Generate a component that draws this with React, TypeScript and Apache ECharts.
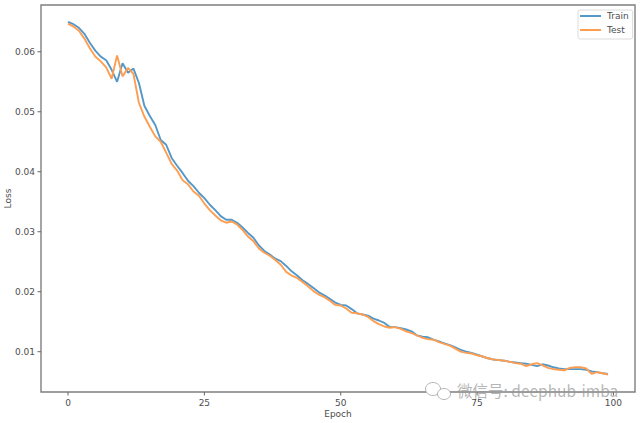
import React, { useEffect, useRef } from "react";
import * as echarts from "echarts";

const epochs = Array.from({ length: 100 }, (_, i) => i);
const trainLoss = [
  0.065, 0.0646, 0.064, 0.063, 0.0615, 0.0602, 0.0592, 0.0586, 0.057, 0.055,
  0.0581, 0.0565, 0.0572, 0.0548, 0.051, 0.0493, 0.0478, 0.0453, 0.0445, 0.0423,
  0.041, 0.0398, 0.0385, 0.0376, 0.0365, 0.0356, 0.0345, 0.0336, 0.0326, 0.032,
  0.032, 0.0315, 0.0307, 0.0298, 0.029, 0.0277, 0.0268, 0.0262, 0.0255, 0.0251,
  0.0243, 0.0234, 0.0227, 0.0219, 0.0213, 0.0206, 0.0199, 0.0194, 0.0188, 0.0182,
  0.0178, 0.0177, 0.0171, 0.0164, 0.0162, 0.016, 0.0155, 0.0152, 0.0148, 0.0141,
  0.0141, 0.0139, 0.0137, 0.0134, 0.0127, 0.0125, 0.0124, 0.012, 0.0117, 0.0114,
  0.0111, 0.0107, 0.0103, 0.01, 0.0098, 0.0095, 0.0092, 0.0089, 0.0087, 0.0086,
  0.0085, 0.0083, 0.0082, 0.0081, 0.008, 0.0078, 0.0076, 0.0079, 0.0077, 0.0074,
  0.0072, 0.0071, 0.0071, 0.0071, 0.0071, 0.007, 0.0067, 0.0066, 0.0064, 0.0063,
];
const testLoss = [
  0.0647, 0.0642, 0.0635, 0.0622, 0.0606, 0.0592, 0.0584, 0.0574, 0.0555, 0.0594,
  0.0559, 0.0573, 0.0563, 0.0515, 0.0492, 0.0475, 0.0459, 0.045, 0.0432, 0.0413,
  0.0402, 0.0386, 0.0379, 0.0367, 0.036, 0.0347, 0.0336, 0.0327, 0.0319, 0.0315,
  0.0317, 0.0312, 0.0303, 0.0292, 0.0284, 0.0272, 0.0265, 0.026, 0.0253, 0.0245,
  0.0233, 0.0227, 0.0223, 0.0216, 0.0209, 0.0201, 0.0195, 0.0191, 0.0185, 0.0178,
  0.0177, 0.0172, 0.0165, 0.0164, 0.0162, 0.0158, 0.0151, 0.0146, 0.0142, 0.014,
  0.0141, 0.0138, 0.0134, 0.0131, 0.0127, 0.0123, 0.0121, 0.012, 0.0116, 0.0113,
  0.011, 0.0105, 0.01, 0.0098, 0.0097, 0.0094, 0.0092, 0.0089, 0.0087, 0.0086,
  0.0085, 0.0083, 0.0081, 0.008, 0.0076, 0.0079, 0.0081, 0.0077, 0.0073, 0.0071,
  0.007, 0.0069, 0.0073, 0.0074, 0.0074, 0.0072, 0.0063, 0.0066, 0.0064, 0.0062,
];
const xTicks = [0, 25, 50, 75, 100];
const yTicks = [0.01, 0.02, 0.03, 0.04, 0.05, 0.06];
const seriesNames = ["Train", "Test"];
const watermark = "微信号: deephub-imba";
const textColor = "#4d4d4d";
const spine = "#7f7f7f";
const tickColor = "#666666";
const markGray = "rgba(150,150,150,0.7)";
const font = "DejaVu Sans";
const yMin = 0.00328;
const xMin = -4.95;

export default function App() {
  const ref = useRef<HTMLDivElement>(null);
  useEffect(() => {
    const chart = echarts.init(ref.current!, undefined, { renderer: "svg" });
    const toPairs = (ys: number[]) => ys.map((y, i) => [epochs[i], y]);
    const makeSeries = (name: string, ys: number[], color: string) => ({
      name,
      type: "line",
      data: toPairs(ys),
      showSymbol: false,
      symbol: "none",
      smooth: false,
      lineStyle: { color, width: 1.9 },
      itemStyle: { color },
    });
    const tickSeries = (name: string, pairs: number[][], dx: number, dy: number) => ({
      name,
      type: "custom",
      silent: true,
      clip: false,
      data: pairs,
      encode: { x: 0, y: 1 },
      renderItem: (_: unknown, api: any) => {
        const p = api.coord([api.value(0), api.value(1)]);
        return {
          type: "line",
          shape: { x1: p[0], y1: p[1], x2: p[0] + dx, y2: p[1] + dy },
          style: { stroke: tickColor, lineWidth: 1 },
        };
      },
    });
    chart.setOption({
      animation: false,
      backgroundColor: "#ffffff",
      textStyle: { fontFamily: font },
      grid: {
        left: 41, right: 6, top: 5, bottom: 31,
        outerBoundsMode: "none",
        containLabel: false,
        show: true, borderColor: spine, borderWidth: 1.4, backgroundColor: "#fff",
      },
      legend: {
        data: seriesNames,
        icon: "rect",
        orient: "vertical",
        left: 578,
        top: 10,
        padding: [0, 4, 3, 2],
        itemWidth: 21,
        itemHeight: 2,
        itemGap: 2,
        borderColor: "#dcdcdc",
        borderWidth: 1,
        borderRadius: 2,
        backgroundColor: "#fff",
        textStyle: { fontFamily: font, fontSize: 9, lineHeight: 12, color: textColor, padding: [0, 0, 0, 1] },
      },
      xAxis: {
        type: "value",
        min: xMin,
        max: 103.95,
        name: "Epoch",
        nameLocation: "middle",
        nameGap: 17,
        nameMoveOverlap: false,
        nameTextStyle: { fontFamily: font, fontSize: 9, color: textColor },
        splitLine: { show: false },
        axisLine: { show: false, onZero: false },
        axisTick: { show: false },
        axisLabel: { customValues: xTicks, fontFamily: font, fontSize: 9, color: textColor, margin: 6, formatter: (v: number) => String(v) },
      },
      yAxis: {
        type: "value",
        min: yMin,
        max: 0.0678,
        name: "Loss",
        nameLocation: "middle",
        nameGap: 29,
        nameMoveOverlap: false,
        nameTextStyle: { fontFamily: font, fontSize: 9, color: textColor },
        splitLine: { show: false },
        axisLine: { show: false, onZero: false },
        axisTick: { show: false },
        axisLabel: { customValues: yTicks, fontFamily: font, fontSize: 9, color: textColor, margin: 6, formatter: (v: number) => v.toFixed(2) },
      },
      series: [
        makeSeries(seriesNames[0], trainLoss, "#5398c8"),
        makeSeries(seriesNames[1], testLoss, "#ff9d50"),
        tickSeries("xTickMarks", xTicks.map((v) => [v, yMin]), 0, 3.5),
        tickSeries("yTickMarks", yTicks.map((v) => [xMin, v]), -3.5, 0),
      ],
      graphic: [
        {
          type: "text",
          x: 457,
          y: 382,
          z: 100,
          style: { text: watermark, fontFamily: "Noto Sans CJK SC", fontSize: 15.5, fill: markGray },
        },
        { type: "ellipse", shape: { cx: 433, cy: 389, rx: 7.5, ry: 6.5 }, z: 100, style: { fill: "#fff", stroke: markGray, lineWidth: 1 } },
        { type: "ellipse", shape: { cx: 444, cy: 394, rx: 6.5, ry: 5.5 }, z: 101, style: { fill: "#fff", stroke: markGray, lineWidth: 1 } },
      ],
    });
    return () => chart.dispose();
  }, []);
  return <div ref={ref} style={{ position: "absolute", left: 0, top: 0, width: 641, height: 423 }} />;
}
